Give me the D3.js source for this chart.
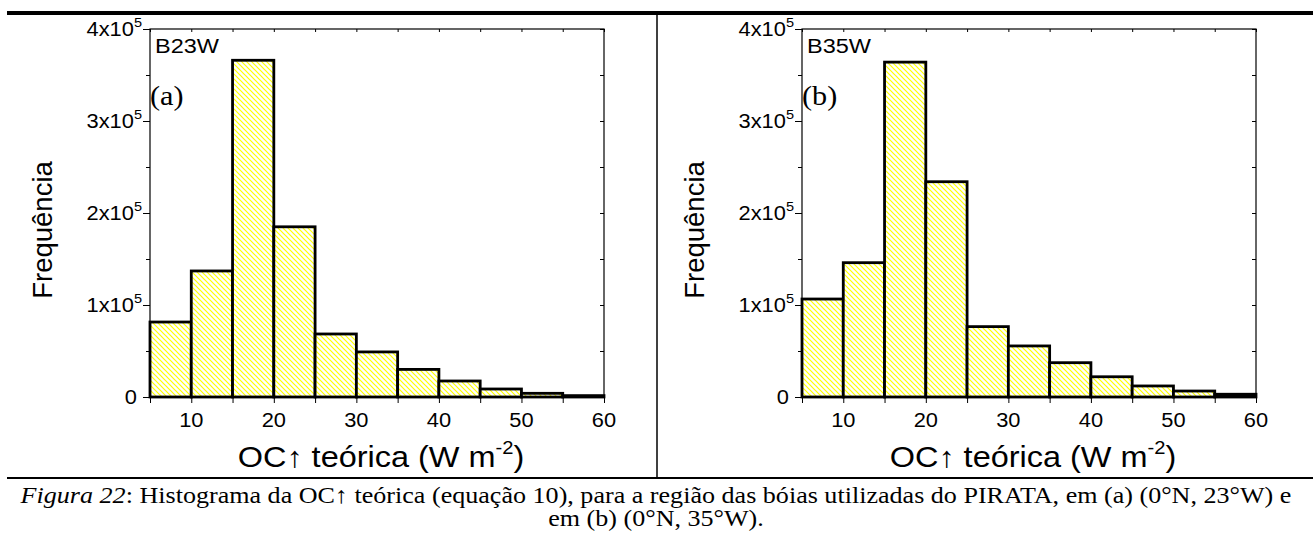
<!DOCTYPE html>
<html>
<head>
<meta charset="utf-8">
<script src="https://cdn.jsdelivr.net/npm/d3@7"></script>
<style>
  body { margin: 0; background: #fff; }
  svg { display: block; }
  .sans { font-family: 'Liberation Sans', Arial, sans-serif; }
  .serif { font-family: 'Liberation Serif', 'Times New Roman', serif; }
</style>
</head>
<body>
<svg id="fig" width="1313" height="536"></svg>
<script>
// histogram bins (W m-2), 5 units wide
const binStarts = [5, 10, 15, 20, 25, 30, 35, 40, 45, 50, 55];
const binWidth = 5;

// frequencies
const countsB23W = [81500, 137000, 366000, 185000, 68500, 49000, 30000, 17400, 8700, 4000, 1500];
const countsB35W = [106500, 146000, 364000, 234000, 76500, 55500, 37300, 22000, 12000, 6500, 3000];

const xTicks = [10, 20, 30, 40, 50, 60];
const yTicks = [0, 1, 2, 3, 4]; // x10^5

const panels = [
    { name: 'B23W', tag: '(a)', counts: countsB23W, left: 150 },
    { name: 'B35W', tag: '(b)', counts: countsB35W, left: 802 }
];

const svg = d3.select('#fig');
const plotW = 454;
const plotTop = 29;
const plotBottom = 397;
const SX = 1.12; // the scanned figure is a bit wider than tall

// text with a slight horizontal stretch, like the original
function stretched(parent, x, y, cls, size, anchor) {
    return parent.append('text')
        .attr('class', cls)
        .attr('font-size', size)
        .attr('text-anchor', anchor || 'start')
        .attr('transform', `translate(${x}, ${y}) scale(${SX}, 1)`);
}

// yellow diagonal hatch
const defs = svg.append('defs');
const pat = defs.append('pattern')
    .attr('id', 'hatch')
    .attr('patternUnits', 'userSpaceOnUse')
    .attr('width', 5)
    .attr('height', 5);
pat.append('rect').attr('width', 5).attr('height', 5).attr('fill', '#fff');
pat.append('path')
    .attr('d', 'M-1,-1 L6,6 M-1,4 L1,6 M4,-1 L6,1')
    .attr('stroke', '#ffff00')
    .attr('stroke-width', 1.2);

// frame lines of the figure
svg.append('line').attr('x1', 7).attr('x2', 1313).attr('y1', 13).attr('y2', 13)
    .attr('stroke', '#000').attr('stroke-width', 4);
svg.append('line').attr('x1', 7).attr('x2', 1313).attr('y1', 478).attr('y2', 478)
    .attr('stroke', '#000').attr('stroke-width', 2);
svg.append('line').attr('x1', 657).attr('x2', 657).attr('y1', 13).attr('y2', 478)
    .attr('stroke', '#000').attr('stroke-width', 1.5);

panels.forEach(p => {
    const x = d3.scaleLinear().domain([5, 60]).range([p.left, p.left + plotW]);
    const y = d3.scaleLinear().domain([0, 400000]).range([plotBottom, plotTop]);
    const g = svg.append('g');

    const bins = binStarts.map((s, i) => ({ x0: s, x1: s + binWidth, v: p.counts[i] }));

    g.selectAll('rect.bar')
        .data(bins)
        .enter()
        .append('rect')
        .attr('class', 'bar')
        .attr('x', d => x(d.x0))
        .attr('y', d => y(d.v))
        .attr('width', d => x(d.x1) - x(d.x0))
        .attr('height', d => y(0) - y(d.v))
        .attr('fill', 'url(#hatch)')
        .attr('stroke', '#000')
        .attr('stroke-width', 2.8);

    // minor ticks every 5 and every 0.5x10^5
    const xMinor = d3.range(5, 61, 5);
    const yMinor = d3.range(0, 400001, 50000);

    // bottom axis
    g.append('g')
        .attr('transform', `translate(0, ${plotBottom})`)
        .call(d3.axisBottom(x).tickValues(xMinor).tickSize(6).tickFormat(''))
        .call(a => a.select('.domain').remove());
    // top axis (inward)
    g.append('g')
        .attr('transform', `translate(0, ${plotTop})`)
        .call(d3.axisBottom(x).tickValues(xMinor).tickSize(3).tickFormat(''))
        .call(a => a.select('.domain').remove());
    // left axis (outward)
    g.append('g')
        .attr('transform', `translate(${p.left}, 0)`)
        .call(d3.axisLeft(y).tickValues(yMinor).tickSize(5).tickFormat(''))
        .call(a => a.select('.domain').remove())
        .call(a => a.selectAll('.tick line').attr('x2', d => d % 100000 === 0 ? -7 : -4));
    // right axis (inward)
    g.append('g')
        .attr('transform', `translate(${p.left + plotW}, 0)`)
        .call(d3.axisLeft(y).tickValues(yMinor).tickSize(4).tickFormat(''))
        .call(a => a.select('.domain').remove());
    g.selectAll('.tick line').attr('stroke', '#000');

    // plot frame
    g.append('rect')
        .attr('x', p.left).attr('y', plotTop)
        .attr('width', plotW).attr('height', plotBottom - plotTop)
        .attr('fill', 'none').attr('stroke', '#000').attr('stroke-width', 1.2);

    // x tick labels
    xTicks.forEach(t => {
        stretched(g, x(t), plotBottom + 30, 'sans', 19.5, 'middle').text(t);
    });

    // y tick labels
    yTicks.forEach(t => {
        if (t === 0) {
            stretched(g, p.left - 13, y(0) + 7, 'sans', 19.5, 'end').text('0');
        } else {
            const tx = stretched(g, p.left - 8, y(t * 100000) + 7, 'sans', 19.5, 'end');
            tx.append('tspan').text(`${t}x10`);
            tx.append('tspan').attr('dy', -9).attr('font-size', 13).text('5');
        }
    });

    // y axis title
    g.append('text')
        .attr('class', 'sans')
        .attr('font-size', 27.5)
        .attr('transform', `translate(${p.left - 98}, 230) rotate(-90)`)
        .attr('text-anchor', 'middle')
        .text('Frequência');

    // x axis title
    const xt = stretched(g, p.left + plotW / 2 + 4, 467, 'sans', 29, 'middle');
    xt.append('tspan').text('OC↑ teórica (W m');
    xt.append('tspan').attr('dy', -13).attr('font-size', 18).text('-2');
    xt.append('tspan').attr('dy', 13).text(')');

    // station name and panel tag
    stretched(g, p.left + 5, plotTop + 24, 'sans', 21).text(p.name);
    stretched(g, p.left, plotTop + 76, 'serif', 27).text(p.tag);
});

// caption
const cap1 = stretched(svg, 656, 503, 'serif', 23.3, 'middle');
cap1.append('tspan').attr('font-style', 'italic').text('Figura 22');
cap1.append('tspan').text(': Histograma da OC↑ teórica (equação 10), para a região das bóias utilizadas do PIRATA, em (a) (0°N, 23°W) e');

stretched(svg, 656, 526, 'serif', 23.3, 'middle').text('em (b) (0°N, 35°W).');
</script>
</body>
</html>
